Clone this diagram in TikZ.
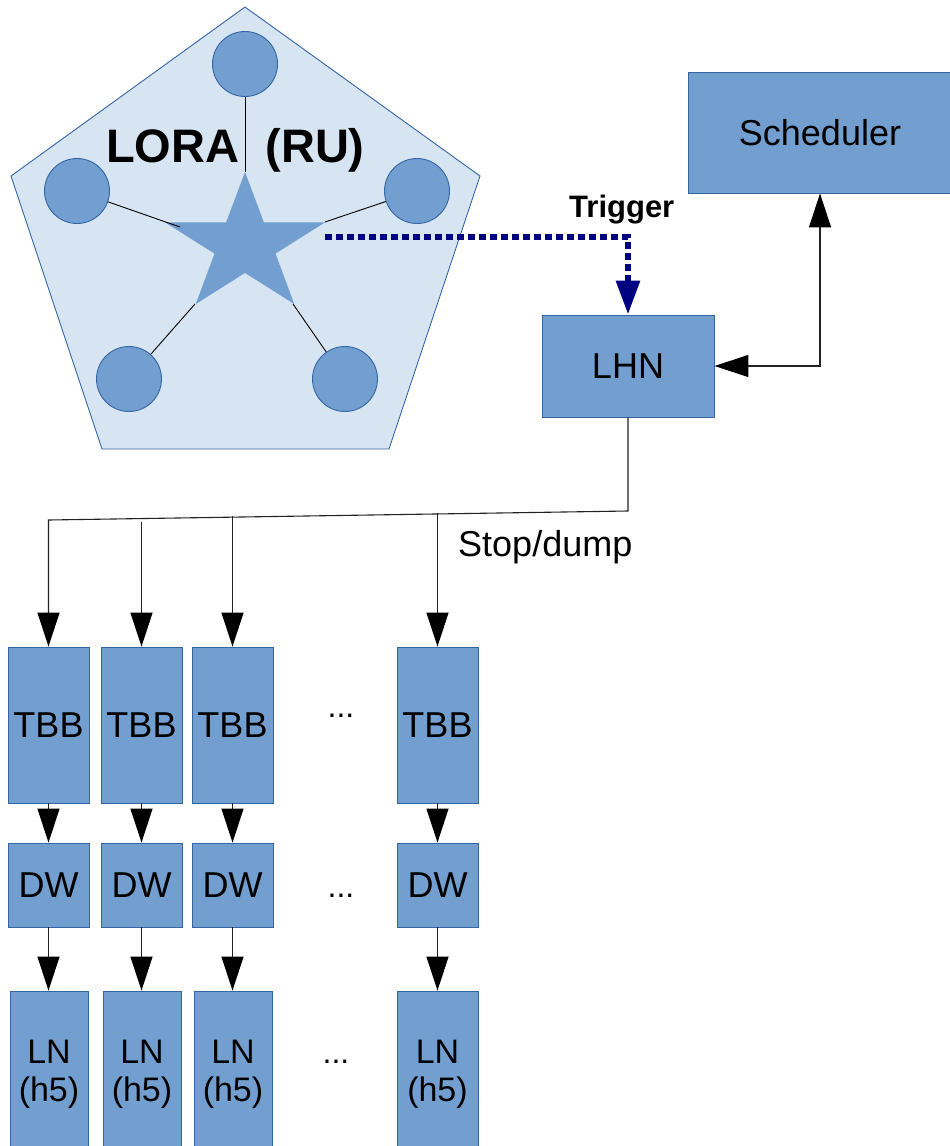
\documentclass[tikz,border=0pt]{standalone}
\usepackage{fontspec}
\setmainfont{Liberation Sans}
\usetikzlibrary{arrows.meta}
\definecolor{bord}{HTML}{3465A4}
\definecolor{boxfill}{HTML}{729FCF}
\definecolor{pentfill}{HTML}{D7E4F2}
\definecolor{trig}{HTML}{000080}
\definecolor{wire}{HTML}{222222}
\tikzset{
  box/.style={draw=bord, fill=boxfill, line width=0.9pt, inner sep=0pt, font=\fontsize{36}{40}\selectfont},
  lnbox/.style={box, minimum height=166pt, align=center, font=\fontsize{34}{38}\selectfont},
  station/.style={circle, draw=bord, fill=boxfill, line width=0.9pt, minimum size=65pt, inner sep=0pt},
  spoke/.style={draw=black, line width=0.9pt},
  arr/.style={draw=wire, line width=1.1pt, -{Triangle[length=34pt,width=22pt,color=black]}},
  dots/.style={font=\fontsize{32}{36}\selectfont, anchor=base},
}
\begin{document}
\begin{tikzpicture}[x=1pt,y=-1pt]
\useasboundingbox (0,0) rectangle (950,1146);
% pentagon
\draw[draw=bord, fill=pentfill, line width=0.9pt] (245,7) -- (480,176) -- (389,449) -- (102,449) -- (11,176) -- cycle;
% star
\fill[boxfill] (245,172) -- (263.9,222.4) -- (325,222.4) -- (275.5,253.6) -- (294.3,304.1) -- (245,272.9) -- (195.7,304.1) -- (214.5,253.6) -- (165,222.4) -- (226.1,222.4) -- cycle;
\coordinate (s1) at (245,172);
\coordinate (s2) at (180,227);
\coordinate (s3) at (325,222);
\coordinate (s4) at (195,304);
\coordinate (s5) at (293,304);
% stations
\node[station] (c1) at (245,64) {};
\node[station] (c2) at (77,191) {};
\node[station] (c3) at (417,191) {};
\node[station] (c4) at (129,379) {};
\node[station] (c5) at (345,379) {};
\draw[spoke] (c1) -- (s1);
\draw[spoke] (c2) -- (s2);
\draw[spoke] (c3) -- (s3);
\draw[spoke] (c4) -- (s4);
\draw[spoke] (c5) -- (s5);
\node[anchor=base west, inner sep=0pt, font=\fontsize{47}{50}\selectfont\bfseries] (lora) at (106,162) {LORA\ \ (RU)};
% scheduler and LHN
\node[box, minimum width=264pt, minimum height=121pt] (sched) at (820,132.5) {Scheduler};
\node[box, minimum width=172pt, minimum height=102pt] (lhn) at (628,366) {LHN};
\node[anchor=base west, inner sep=0pt, font=\fontsize{31}{34}\selectfont\bfseries] (trg) at (569,217) {Trigger};
\coordinate (tstart) at (325,237);
\draw[draw=trig, line width=6pt, dash pattern=on 7pt off 4pt, -{Triangle[length=34pt,width=23pt]}] (tstart) -| (lhn.north);
\draw[draw=wire, line width=1.1pt, {Triangle[length=34pt,width=22pt,color=black]}-{Triangle[length=34pt,width=22pt,color=black]}] (lhn.east) -| (sched.south);
% TBB row
\node[box, minimum width=81pt, minimum height=156pt] (tbb1) at (48.5,725) {TBB};
\node[box, minimum width=81pt, minimum height=156pt] (tbb2) at (141.5,725) {TBB};
\node[box, minimum width=81pt, minimum height=156pt] (tbb3) at (232.5,725) {TBB};
\node[box, minimum width=81pt, minimum height=156pt] (tbb4) at (437.5,725) {TBB};
\node[dots] (d1) at (341,717) {...};
% DW row
\node[box, minimum width=81pt, minimum height=84pt] (dw1) at (48.5,885) {DW};
\node[box, minimum width=81pt, minimum height=84pt] (dw2) at (141.5,885) {DW};
\node[box, minimum width=81pt, minimum height=84pt] (dw3) at (232.5,885) {DW};
\node[box, minimum width=81pt, minimum height=84pt] (dw4) at (437.5,885) {DW};
\node[dots] (d2) at (341,897) {...};
% LN row
\node[lnbox, minimum width=78pt] (ln1) at (49,1074) {LN\\(h5)};
\node[lnbox, minimum width=78pt] (ln2) at (142,1074) {LN\\(h5)};
\node[lnbox, minimum width=78pt] (ln3) at (233,1074) {LN\\(h5)};
\node[lnbox, minimum width=81pt] (ln4) at (437.5,1074) {LN\\(h5)};
\node[dots] (d3) at (336,1063) {...};
% bus
\coordinate (busR) at (628,511);
\coordinate (busL) at (48.5,520);
\coordinate (b2) at (141.5,522);
\coordinate (b3) at (232.5,516);
\coordinate (b4) at (437.5,513);
\draw[arr] (lhn.south) -- (busR) -- (busL) -- (tbb1.north);
\draw[arr] (b2) -- (tbb2.north);
\draw[arr] (b3) -- (tbb3.north);
\draw[arr] (b4) -- (tbb4.north);
\node[anchor=base west, inner sep=0pt, font=\fontsize{36}{40}\selectfont] (stop) at (458,556) {Stop/dump};
% vertical arrows
\foreach \i in {1,2,3,4} {
  \draw[arr] (tbb\i.south) -- (dw\i.north);
  \draw[arr] (dw\i.south) -- (ln\i.north -| dw\i.south);
}
\end{tikzpicture}
\end{document}
